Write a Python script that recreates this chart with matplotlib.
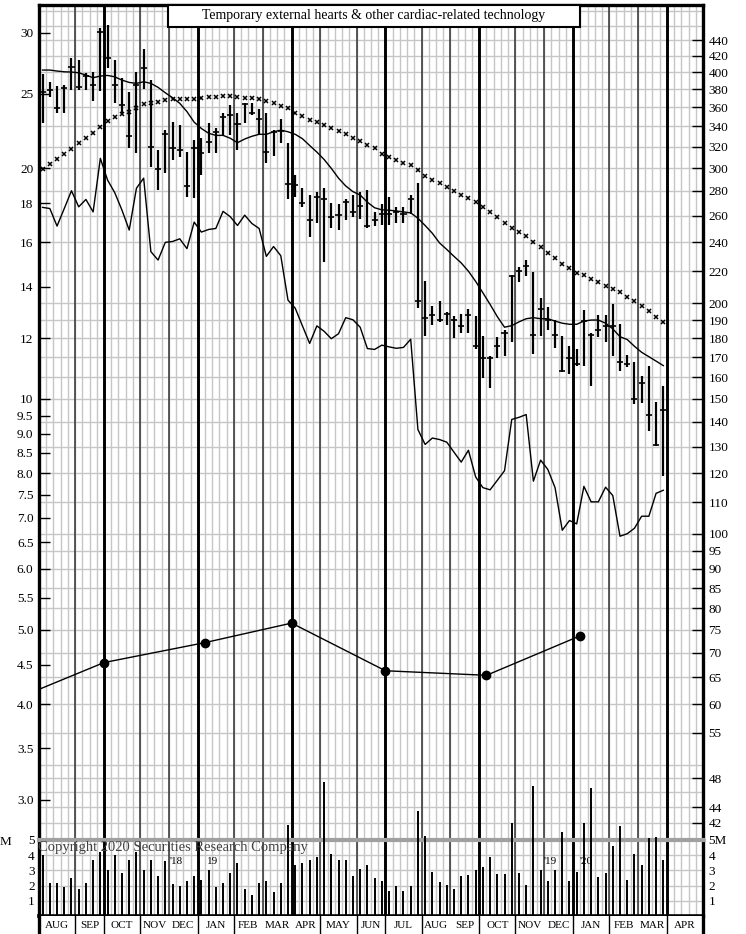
import numpy as np
import matplotlib.pyplot as plt
from matplotlib.patches import Rectangle
from matplotlib.ticker import NullLocator

plt.rcParams['font.family'] = ['Liberation Serif', 'DejaVu Serif']

title = 'Temporary external hearts & other cardiac-related technology'

# calendar: 4-5-4 week months, Aug 2018 .. Apr 2020
months = ['AUG', 'SEP', 'OCT', 'NOV', 'DEC', 'JAN', 'FEB', 'MAR', 'APR', 'MAY', 'JUN', 'JUL',
          'AUG', 'SEP', 'OCT', 'NOV', 'DEC', 'JAN', 'FEB', 'MAR', 'APR']
weeks_in_month = [5, 4, 5, 4, 4, 5, 4, 4, 4, 5, 4, 5, 4, 4, 5, 4, 4, 5, 4, 4, 5]
year_marks = [("'18", 19.0), ("19", 24.0), ("'19", 70.8), ("'20", 75.8)]

# weekly price bars
high = [26.5, 25.86, 25.55, 25.63, 27.8, 27.65, 26.62, 26.7, 30.43, 30.73,
        27.7, 26.18, 25.15, 26.7, 28.57, 26.04, 21.1, 22.41, 22.95, 22.75,
        21.0, 21.78, 21.86, 22.87, 22.52, 23.57, 24.16, 23.57, 24.33, 24.33,
        23.87, 23.57, 22.41, 23.2, 21.53, 19.58, 18.82, 18.44, 18.63, 18.82,
        18.0, 17.96, 18.2, 18.44, 18.63, 18.7, 17.55, 17.94, 18.33, 17.81,
        17.81, 18.44, 19.13, 14.23, 13.23, 13.4, 12.97, 12.84, 12.92, 13.1,
        12.84, 12.07, 11.36, 12.04, 12.31, 14.52, 14.86, 15.16, 14.62, 13.53,
        13.18, 12.69, 12.09, 11.71, 11.62, 13.07, 12.19, 12.88, 12.88, 13.31,
        12.53, 11.42, 11.16, 10.72, 11.05, 9.92, 10.38]
low = [22.9, 24.78, 23.57, 23.61, 25.28, 25.28, 25.28, 24.46, 25.23, 27.0,
       24.29, 23.57, 21.22, 20.9, 25.33, 20.07, 18.7, 19.68, 20.48, 20.69,
       18.33, 18.26, 19.58, 20.9, 20.94, 22.0, 22.06, 21.1, 22.87, 23.45,
       22.18, 20.32, 20.73, 21.53, 18.2, 18.33, 17.81, 16.27, 16.97, 15.1,
       16.69, 16.6, 17.1, 17.28, 17.14, 16.69, 16.78, 16.83, 16.83, 16.97,
       16.97, 17.44, 13.13, 12.07, 12.5, 12.58, 12.5, 12.0, 12.19, 12.19,
       11.62, 10.65, 10.33, 11.3, 11.36, 11.85, 14.19, 14.48, 11.45, 12.09,
       12.31, 11.65, 10.83, 10.79, 11.03, 11.03, 10.4, 12.04, 11.85, 11.38,
       10.86, 11.01, 9.85, 9.87, 9.07, 8.69, 7.94]
close = [25.15, 25.28, 23.93, 25.47, 27.1, 25.53, 26.36, 25.63, 30.06, 27.8,
         25.63, 24.16, 22.0, 25.63, 26.97, 21.32, 19.94, 22.18, 21.22, 21.1,
         18.95, 21.24, 20.9, 21.64, 22.26, 23.32, 23.45, 22.82, 24.21, 23.57,
         23.2, 21.0, 22.3, 22.35, 19.05, 19.03, 18.0, 17.1, 18.33, 18.2,
         17.28, 17.37, 18.05, 17.5, 17.85, 16.78, 17.1, 17.44, 17.44, 17.51,
         17.44, 18.2, 13.4, 12.75, 12.88, 12.66, 12.92, 12.66, 12.46, 12.88,
         11.73, 11.3, 11.31, 11.71, 12.19, 14.48, 14.67, 14.91, 12.13, 13.1,
         12.66, 12.13, 10.86, 11.3, 11.11, 12.62, 12.13, 12.31, 12.43, 12.46,
         11.16, 11.11, 10.0, 10.49, 9.54, 8.7, 9.68]

ma_short = [26.84, 26.84, 26.76, 26.7, 26.68, 26.62, 26.44, 26.23, 26.36, 26.41,
            26.3, 26.04, 25.86, 25.79, 25.91, 25.79, 25.48, 25.07, 24.7, 24.29,
            23.69, 22.95, 22.52, 22.2, 22.06, 22.06, 21.87, 21.58, 21.82, 22.0,
            22.13, 22.13, 22.3, 22.41, 22.3, 22.13, 21.84, 21.4, 20.98, 20.52,
            19.98, 19.4, 18.95, 18.63, 18.44, 18.05, 17.75, 17.64, 17.62, 17.58,
            17.53, 17.48, 17.2, 16.83, 16.44, 15.97, 15.66, 15.34, 15.04, 14.67,
            14.23, 13.75, 13.28, 12.8, 12.4, 12.46, 12.6, 12.72, 12.76, 12.72,
            12.72, 12.63, 12.55, 12.51, 12.51, 12.63, 12.67, 12.67, 12.55, 12.34,
            12.05, 11.95, 11.71, 11.5, 11.35, 11.2, 11.05]
ma_long = [19.94, 20.24, 20.53, 20.84, 21.18, 21.54, 21.91, 22.21, 22.63, 23.0,
           23.32, 23.55, 23.69, 23.93, 24.23, 24.33, 24.41, 24.53, 24.58, 24.58,
           24.6, 24.63, 24.67, 24.74, 24.74, 24.81, 24.84, 24.76, 24.7, 24.7,
           24.61, 24.48, 24.31, 24.11, 23.92, 23.61, 23.38, 23.1, 22.94, 22.75,
           22.52, 22.35, 22.18, 21.9, 21.72, 21.44, 21.23, 20.89, 20.69, 20.48,
           20.28, 20.18, 19.88, 19.53, 19.3, 19.13, 18.87, 18.66, 18.44, 18.26,
           18.04, 17.81, 17.55, 17.29, 16.98, 16.7, 16.5, 16.3, 16.0, 15.8,
           15.5, 15.27, 15.0, 14.8, 14.6, 14.5, 14.33, 14.2, 14.05, 13.9,
           13.77, 13.58, 13.4, 13.2, 13.0, 12.8, 12.6]
rel_strength = [17.77, 17.71, 16.8, 17.71, 18.68, 17.8, 18.2, 17.53, 20.59, 19.29,
                18.57, 17.62, 16.6, 18.82, 19.4, 15.56, 15.17, 16.0, 16.04, 16.17,
                15.7, 17.0, 16.5, 16.63, 16.68, 17.56, 17.28, 16.83, 17.36, 16.93,
                16.68, 15.34, 15.8, 15.37, 13.45, 13.13, 12.45, 11.81, 12.45, 12.25,
                11.98, 12.16, 12.76, 12.68, 12.4, 11.63, 11.6, 11.75, 11.69, 11.64,
                11.67, 11.96, 9.12, 8.72, 8.89, 8.85, 8.78, 8.52, 8.27, 8.57,
                7.91, 7.66, 7.61, 7.83, 8.06, 9.4, 9.46, 9.54, 7.81, 8.32,
                8.09, 7.66, 6.74, 6.94, 6.87, 7.69, 7.34, 7.34, 7.67, 7.48,
                6.62, 6.67, 6.78, 7.03, 7.03, 7.53, 7.6]
volume = [4.0, 2.2, 2.2, 1.9, 2.5, 1.75, 2.2, 3.7, 4.2, 3.0,
          4.0, 2.8, 3.7, 4.2, 3.0, 3.7, 2.6, 3.6, 2.1, 2.0,
          2.3, 2.6, 2.4, 3.0, 1.9, 2.2, 2.8, 3.5, 1.75, 1.4,
          2.2, 2.3, 1.55, 2.15, 6.0, 3.35, 3.5, 3.7, 3.85, 8.8,
          4.1, 3.7, 3.7, 2.6, 3.1, 3.35, 2.5, 2.3, 1.65, 2.0,
          1.65, 2.0, 6.9, 5.25, 2.9, 2.25, 2.05, 1.75, 2.6, 2.7,
          3.05, 3.25, 3.85, 2.75, 2.75, 6.1, 2.8, 2.05, 8.55, 3.0,
          2.3, 3.0, 5.55, 2.3, 2.9, 6.15, 8.4, 2.55, 2.8, 4.6,
          5.9, 2.4, 4.1, 3.35, 5.1, 5.2, 3.7]

# quarterly earnings line
earn_week = [0, 9, 23, 35, 48, 62, 75]
earn_value = [4.18, 4.53, 4.81, 5.10, 4.42, 4.36, 4.91]

left_ticks = [30, 25, 20, 18, 16, 14, 12, 10, 9.5, 9.0, 8.5, 8.0, 7.5, 7.0,
              6.5, 6.0, 5.5, 5.0, 4.5, 4.0, 3.5, 3.0]
right_ticks = [440, 420, 400, 380, 360, 340, 320, 300, 280, 260, 240, 220, 200,
               190, 180, 170, 160, 150, 140, 130, 120, 110, 100, 95, 90, 85, 80,
               75, 70, 65, 60, 55, 48, 44, 42]
right_scale = 15

# ---- layout (pixels of a 746x934 canvas)
W, H = 746, 934
fig = plt.figure(figsize=(W / 100, H / 100), dpi=100)


def box(x0, y0, x1, y1):
    return [x0 / W, 1 - y1 / H, (x1 - x0) / W, (y1 - y0) / H]


ax_p = fig.add_axes(box(39, 5, 703, 840))
ax_v = fig.add_axes(box(39, 840, 703, 916))
ax_m = fig.add_axes(box(39, 916, 703, 934))

edges = np.concatenate([[0], np.cumsum(weeks_in_month)])
n_weeks = edges[-1]
xb = np.arange(len(close)) + 0.5
grid_c = '#c6c6c6'
quarter_starts = {'JAN', 'APR', 'JUL', 'OCT'}


def draw_verticals(ax):
    for w in range(n_weeks + 1):
        ax.axvline(w, color=grid_c, lw=1.0, zorder=0)
    for i, e in enumerate(edges[1:-1], start=1):
        if months[i] in quarter_starts:
            ax.axvline(e, color='black', lw=2.1, zorder=1)
        else:
            ax.axvline(e, color='#303030', lw=1.1, zorder=1)


for ax in (ax_p, ax_v, ax_m):
    ax.set_xlim(0, n_weeks)
    ax.set_xticks([])
    for s in ('left', 'right'):
        ax.spines[s].set_linewidth(2.4)

# ---- price panel
ax_p.set_yscale('log')
lo, hi = 2.659, 32.63
ax_p.set_ylim(lo, hi)
draw_verticals(ax_p)
grid_r = list(range(480, 199, -20)) + list(range(190, 99, -10)) + \
    list(range(95, 49, -5)) + [48, 46, 44, 42]
for r in grid_r:
    ax_p.axhline(r / right_scale, color=grid_c, lw=1.0, zorder=0)

ax_p.vlines(xb, low, high, color='black', lw=1.6, zorder=4)
ax_p.hlines(close, xb - 0.42, xb + 0.42, color='black', lw=1.2, zorder=4)
ax_p.plot(xb, ma_short, color='black', lw=1.0, zorder=3)
ax_p.plot(xb, ma_long, ls='none', marker='x', ms=3.2, mew=1.1, color='black', zorder=3)
ax_p.plot(xb, rel_strength, color='black', lw=1.0, zorder=3)
ax_p.plot(earn_week, earn_value, color='black', lw=1.0, zorder=3)
ax_p.plot(earn_week[1:], earn_value[1:], ls='none', marker='o', ms=6, color='black', zorder=4)

ax_p.set_yticks(left_ticks)
ax_p.set_yticklabels([f'{t:.0f}' if t >= 10 else f'{t:.1f}' for t in left_ticks])
ax_p.yaxis.set_minor_locator(NullLocator())
ax_p.tick_params(axis='y', direction='in', length=8, width=1.0, pad=4, labelsize=9.5)
ax_p.spines['top'].set_linewidth(2.4)
ax_p.spines['bottom'].set_visible(False)

ax_r = ax_p.twinx()
ax_r.set_yscale('log')
ax_r.set_ylim(lo * right_scale, hi * right_scale)
ax_r.set_yticks(right_ticks)
ax_r.set_yticklabels([str(t) for t in right_ticks])
ax_r.yaxis.set_minor_locator(NullLocator())
ax_r.tick_params(axis='y', direction='in', length=8, width=1.0, pad=4, labelsize=9.5)
for s in ax_r.spines.values():
    s.set_visible(False)

# ---- volume panel
ax_v.set_ylim(0, 5)
draw_verticals(ax_v)
for v in (1, 2, 3, 4):
    ax_v.axhline(v, color=grid_c, lw=1.0, zorder=0)
ax_v.vlines(xb, 0, volume, color='black', lw=1.4, zorder=3, clip_on=False)
ax_v.spines['top'].set_color('#a0a0a0')
ax_v.spines['top'].set_linewidth(3)
ax_v.spines['bottom'].set_linewidth(2.6)
ax_v.set_yticks([1, 2, 3, 4, 5])
ax_v.set_yticklabels(['1', '2', '3', '4', '5'])
ax_v.tick_params(axis='y', length=0, pad=3, labelsize=9.5)
ax_v2 = ax_v.twinx()
ax_v2.set_ylim(0, 5)
ax_v2.set_yticks([1, 2, 3, 4, 5])
ax_v2.set_yticklabels(['1', '2', '3', '4', '5M'])
ax_v2.tick_params(axis='y', length=0, pad=4, labelsize=9.5)
for s in ax_v2.spines.values():
    s.set_visible(False)
ax_v.text(-0.2, 4.5, 'Copyright 2020 Securities Research Company', fontsize=10.5,
          color='#404040', ha='left', va='center', zorder=6)
for lab, w in year_marks:
    ax_v.text(w, 3.6, lab, fontsize=8, ha='center', va='center', zorder=6)
fig.text(5 / W, 1 - 842 / H, 'M', fontsize=9.5, ha='center', va='center')

# ---- month strip
ax_m.set_ylim(0, 1)
ax_m.set_yticks([])
ax_m.spines['top'].set_visible(False)
ax_m.spines['bottom'].set_visible(False)
no_divider = {18, 31, 35, 57, 70, 83}
for e in edges[1:-1]:
    if e not in no_divider:
        ax_m.axvline(e, color='black', lw=1.0)
for i, m in enumerate(months):
    ax_m.text((edges[i] + edges[i + 1]) / 2, 0.45, m, fontsize=8, ha='center', va='center')

# ---- title box
fig.add_artist(Rectangle((168 / W, 1 - 27 / H), (580 - 168) / W, 22 / H,
                         transform=fig.transFigure, fc='white', ec='black', lw=1.5, zorder=10))
fig.text(374 / W, 1 - 16 / H, title, fontsize=10, ha='center', va='center', zorder=11)

fig.savefig('out.png', dpi=100)
